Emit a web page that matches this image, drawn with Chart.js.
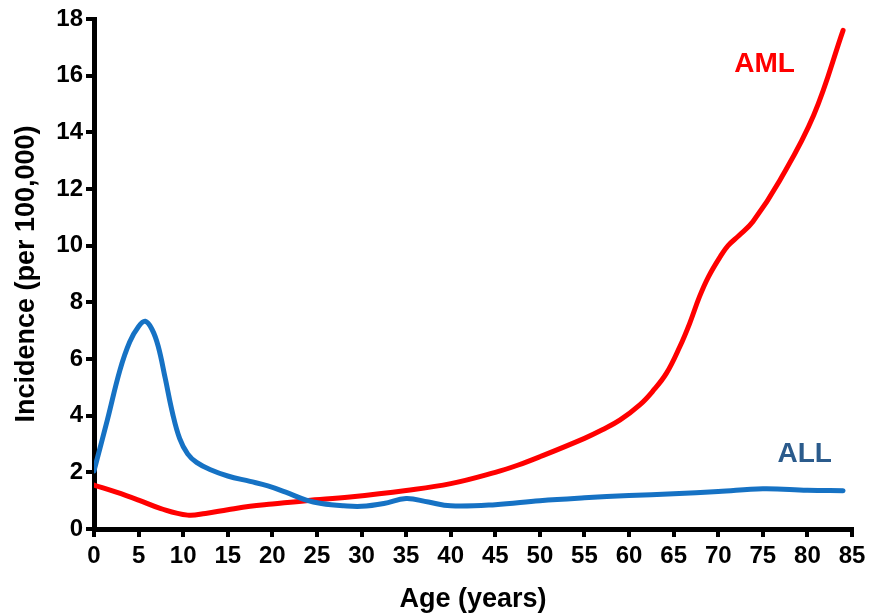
<!DOCTYPE html>
<html>
<head>
<meta charset="utf-8">
<script src="https://cdn.jsdelivr.net/npm/chart.js@4/dist/chart.umd.min.js"></script>
<style>
  html, body { margin: 0; padding: 0; background: #fff; }
  #wrap { width: 871px; height: 616px; position: relative; }
</style>
</head>
<body>
<div id="wrap"><canvas id="chart" width="871" height="616"></canvas></div>
<script>
// Leukemia incidence by age (per 100,000)
const xTicks = [0, 5, 10, 15, 20, 25, 30, 35, 40, 45, 50, 55, 60, 65, 70, 75, 80, 85];
const yTicks = [0, 2, 4, 6, 8, 10, 12, 14, 16, 18];

const allAges = [0, 1.5, 2.9, 4, 5, 5.75, 6.5, 7.2, 8, 8.8, 9.6, 10.5, 11.5, 13, 15, 17.5, 19.5, 21.5, 23.8, 25.5, 28, 30, 32.5, 35, 37.5, 40, 45, 50, 55, 60, 65, 70, 75, 80, 84];
const allValues = [2.05, 3.85, 5.6, 6.6, 7.15, 7.33, 7.05, 6.45, 5.3, 4.1, 3.2, 2.65, 2.35, 2.1, 1.87, 1.68, 1.52, 1.3, 1.02, 0.9, 0.82, 0.8, 0.9, 1.08, 0.95, 0.82, 0.86, 1.0, 1.1, 1.18, 1.24, 1.32, 1.42, 1.37, 1.35];

const amlAges = [0, 2.5, 5, 7.5, 10.5, 12.5, 15, 17.5, 20, 23.8, 28.7, 35, 40, 45, 47.5, 50, 55, 57, 59, 61.2, 62.7, 64.2, 65.7, 66.8, 67.9, 68.9, 70.2, 71.1, 72.3, 73.9, 76.9, 80.7, 84];
const amlValues = [1.55, 1.3, 1.02, 0.72, 0.49, 0.55, 0.68, 0.8, 0.88, 1.0, 1.13, 1.36, 1.6, 2.0, 2.25, 2.55, 3.2, 3.5, 3.85, 4.38, 4.88, 5.5, 6.44, 7.26, 8.2, 8.9, 9.6, 10.0, 10.35, 10.85, 12.3, 14.6, 17.6];

const seriesLabels = [
  { text: 'AML', x: 75.2, y: 16.4, color: '#ff0000' },
  { text: 'ALL', x: 79.7, y: 2.65, color: '#2b5b8c' }
];

const FONT = "'Liberation Sans', Arial, sans-serif";

const toPoints = (xs, ys) => xs.map((x, i) => ({ x, y: ys[i] }));

const labelPlugin = {
  id: 'seriesLabels',
  afterDatasetsDraw(chart) {
    const { ctx, scales } = chart;
    ctx.save();
    ctx.font = 'bold 28px ' + FONT;
    ctx.textAlign = 'center';
    ctx.textBaseline = 'middle';
    seriesLabels.forEach(l => {
      ctx.fillStyle = l.color;
      ctx.fillText(l.text, scales.x.getPixelForValue(l.x), scales.y.getPixelForValue(l.y));
    });
    ctx.restore();
  }
};

const lineStyle = {
  borderWidth: 5,
  borderCapStyle: 'round',
  borderJoinStyle: 'round',
  pointRadius: 0,
  tension: 0.4,
  fill: false
};

new Chart(document.getElementById('chart'), {
  type: 'line',
  data: {
    datasets: [
      Object.assign({ label: 'ALL', data: toPoints(allAges, allValues), borderColor: '#1672c4' }, lineStyle),
      Object.assign({ label: 'AML', data: toPoints(amlAges, amlValues), borderColor: '#ff0000' }, lineStyle)
    ]
  },
  options: {
    responsive: false,
    animation: false,
    layout: { padding: { top: 19, right: 19, left: 0, bottom: 0 } },
    plugins: {
      legend: { display: false },
      tooltip: { enabled: false }
    },
    scales: {
      x: {
        type: 'linear',
        min: 0,
        max: 85,
        afterFit(scale) { scale.height = 87; },
        afterBuildTicks(scale) { scale.ticks = xTicks.map(v => ({ value: v })); },
        border: { display: true, color: '#000', width: 5 },
        grid: { drawOnChartArea: false, drawTicks: true, tickLength: 8, color: '#000', lineWidth: 4 },
        ticks: { color: '#000', padding: 5, maxRotation: 0, font: { family: FONT, size: 24, weight: 'bold' } },
        title: { display: true, text: 'Age (years)', color: '#000', padding: { top: 2, bottom: 0 }, font: { family: FONT, size: 27, weight: 'bold' } }
      },
      y: {
        type: 'linear',
        min: 0,
        max: 18,
        afterFit(scale) { scale.width = 94; },
        afterBuildTicks(scale) { scale.ticks = yTicks.map(v => ({ value: v })); },
        border: { display: true, color: '#000', width: 5 },
        grid: { drawOnChartArea: false, drawTicks: true, tickLength: 8, color: '#000', lineWidth: 4 },
        ticks: { color: '#000', padding: 3, font: { family: FONT, size: 24, weight: 'bold' } },
        title: { display: true, text: 'Incidence (per 100,000)', color: '#000', padding: { top: 10, bottom: 0 }, font: { family: FONT, size: 27, weight: 'bold' } }
      }
    }
  },
  plugins: [labelPlugin]
});
</script>
</body>
</html>
